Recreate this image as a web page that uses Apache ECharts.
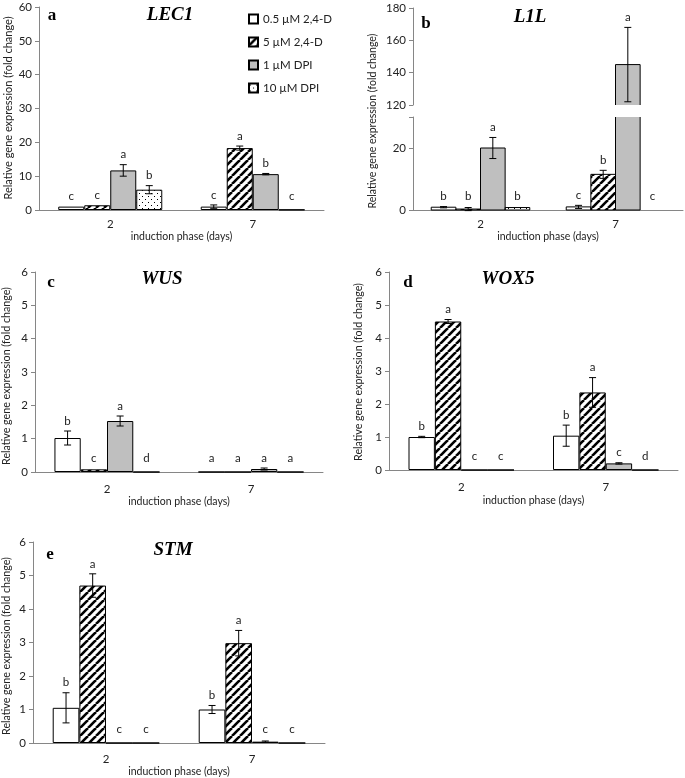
<!DOCTYPE html>
<html><head><meta charset="utf-8">
<script src="https://cdn.jsdelivr.net/npm/echarts@6/dist/echarts.min.js"></script>
<style>html,body{margin:0;padding:0;background:#fff}#c{width:685px;height:778px}</style>
</head><body><div id="c"></div>
<script>
const categories = ['2', '7'];
const treatments = ['0.5 µM 2,4-D', '5 µM 2,4-D', '1 µM DPI', '10 µM DPI'];

// values per treatment: [day 2, day 7]
const lec1Mean = [[1.0, 1.0], [1.4, 18.3], [11.7, 10.6], [6.0, 0.1]];
const lec1Err  = [[0, 0.5], [0, 0.6], [1.7, 0.2], [1.2, 0]];
const lec1Sig  = [['c', 'c'], ['c', 'a'], ['a', 'b'], ['b', 'c']];

const l1lMean = [[0.9, 1.0], [0.3, 11.5], [20.0, 145], [0.8, 0]];
const l1lErr  = [[0.2, 0.5], [0.5, 1.3], [3.4, 23], [0, 0]];
const l1lSig  = [['b', 'c'], ['b', 'b'], ['a', 'a'], ['b', 'c']];

const wusMean = [[1.02, 0], [0.08, 0], [1.53, 0.09], [0, 0]];
const wusErr  = [[0.21, 0], [0, 0], [0.15, 0.03], [0, 0]];
const wusSig  = [['b', 'a'], ['c', 'a'], ['a', 'a'], ['d', 'a']];

const wox5Mean = [[1.0, 1.04], [4.5, 2.35], [0, 0.2], [0, 0]];
const wox5Err  = [[0.02, 0.32], [0.06, 0.45], [0, 0.02], [0, 0]];
const wox5Sig  = [['b', 'b'], ['a', 'a'], ['c', 'c'], ['c', 'd']];

const stmMean = [[1.05, 1.0], [4.7, 2.98], [0, 0.04], [0, 0]];
const stmErr  = [[0.45, 0.12], [0.35, 0.38], [0, 0.02], [0, 0]];
const stmSig  = [['b', 'b'], ['a', 'a'], ['c', 'c'], ['c', 'c']];

const yTitle = 'Relative gene expression (fold change)';
const xTitle = 'induction phase (days)';

function makeHatch() {
  const c = document.createElement('canvas'); c.width = 8; c.height = 8;
  const g = c.getContext('2d');
  g.fillStyle = '#fff'; g.fillRect(0, 0, 8, 8);
  g.strokeStyle = '#000'; g.lineWidth = 2.6;
  for (const k of [-8, 0, 8]) { g.beginPath(); g.moveTo(k, 8); g.lineTo(k + 8, 0); g.stroke(); }
  return c;
}
function makeDots() {
  const c = document.createElement('canvas'); c.width = 6; c.height = 6;
  const g = c.getContext('2d');
  g.fillStyle = '#fff'; g.fillRect(0, 0, 6, 6);
  g.fillStyle = '#000'; g.fillRect(1, 1, 1, 1); g.fillRect(4, 4, 1, 1);
  return c;
}
const fills = ['#ffffff', { image: makeHatch(), repeat: 'repeat' }, '#bfbfbf', { image: makeDots(), repeat: 'repeat' }];
const GAP = 0.27;
const FONT = 'Lato, "Open Sans", sans-serif';
const axisGray = '#868686';

function bars(xi, yi, mean, border) {
  return treatments.map((n, t) => ({
    type: 'bar', name: n, xAxisIndex: xi, yAxisIndex: yi, data: mean[t],
    barGap: '0%', barCategoryGap: (GAP * 100) + '%', silent: true,
    itemStyle: { color: fills[t], borderColor: '#000', borderWidth: border ? 1 : 0 }
  }));
}
function barX(api, c, t) {
  const band = api.size([1, 0])[0];
  const bw = band * (1 - GAP) / 4;
  return { cx: api.coord([c, 0])[0] + (t - 1.5) * bw, bw };
}
// outlines for the broken-axis panel: open at the break
function outlines(xi, yi, mean) {
  const data = [];
  for (let t = 0; t < 4; t++) for (let c = 0; c < 2; c++) data.push([c, t, mean[t][c]]);
  return {
    type: 'custom', xAxisIndex: xi, yAxisIndex: yi, data, clip: false, silent: true, z: 9,
    encode: { x: 0, y: 2 },
    renderItem(p, api) {
      const c = api.value(0), t = api.value(1), v = api.value(2);
      const { cx, bw } = barX(api, c, t);
      const cs = p.coordSys;
      const yT = api.coord([c, v])[1], yB = api.coord([c, 0])[1];
      const top = cs.y, bot = cs.y + cs.height;
      const a = Math.max(top, Math.min(bot, yT)), b = Math.max(top, Math.min(bot, yB));
      if (a >= b) return { type: 'group', children: [] };
      const x0 = cx - bw / 2, x1 = cx + bw / 2;
      const ls = { stroke: '#000', lineWidth: 1, fill: null };
      const ch = [
        { type: 'line', shape: { x1: x0, y1: a, x2: x0, y2: b }, style: ls },
        { type: 'line', shape: { x1: x1, y1: a, x2: x1, y2: b }, style: ls }
      ];
      if (yT >= top) ch.push({ type: 'line', shape: { x1: x0, y1: a, x2: x1, y2: a }, style: ls });
      if (yB <= bot) ch.push({ type: 'line', shape: { x1: x0, y1: b, x2: x1, y2: b }, style: ls });
      return { type: 'group', children: ch };
    }
  };
}
function errs(xi, yi, mean, err, sig, lo, hi) {
  const data = [], letters = [];
  for (let t = 0; t < 4; t++) for (let c = 0; c < 2; c++) {
    const v = mean[t][c];
    if (v < lo || v > hi) continue;
    data.push([c, t, v, err[t][c]]); letters.push(sig[t][c]);
  }
  return {
    type: 'custom', xAxisIndex: xi, yAxisIndex: yi, data, clip: false, silent: true, z: 10,
    encode: { x: 0, y: 2 },
    renderItem(p, api) {
      const c = api.value(0), t = api.value(1), v = api.value(2), e = api.value(3);
      const { cx } = barX(api, c, t);
      const p0 = api.coord([c, 0]);
      const yTop = api.coord([c, v + e])[1];
      const yBot = api.coord([c, v - e])[1];
      const ch = [];
      if (e > 0) {
        const ls = { stroke: '#000', lineWidth: 1 };
        ch.push({ type: 'line', shape: { x1: cx, y1: yTop, x2: cx, y2: yBot }, style: ls });
        ch.push({ type: 'line', shape: { x1: cx - 3.5, y1: yTop, x2: cx + 3.5, y2: yTop }, style: ls });
        ch.push({ type: 'line', shape: { x1: cx - 3.5, y1: yBot, x2: cx + 3.5, y2: yBot }, style: ls });
      }
      const ly = Math.min(yTop - 10, p0[1] - 14);
      ch.push({ type: 'text', x: cx, y: ly, style: { text: letters[p.dataIndex], align: 'center', verticalAlign: 'middle', fill: '#222', fontSize: 11.5, fontFamily: FONT } });
      return { type: 'group', children: ch };
    }
  };
}
function xAx(gi, show, labelMargin, nameGap) {
  return {
    type: 'category', gridIndex: gi, data: categories, show,
    axisLine: { lineStyle: { color: axisGray } },
    axisTick: { length: 4, lineStyle: { color: axisGray } },
    axisLabel: { color: '#222', fontSize: 11.5, fontFamily: FONT, margin: labelMargin },
    name: xTitle, nameLocation: 'middle', nameGap,
    nameTextStyle: { color: '#222', fontSize: 10.5, fontFamily: FONT }
  };
}
function yAx(gi, min, max, interval, fmt) {
  return {
    type: 'value', gridIndex: gi, min, max, interval,
    splitLine: { show: false },
    axisLine: { show: true, lineStyle: { color: axisGray } },
    axisTick: { show: true, length: 4, lineStyle: { color: axisGray } },
    axisLabel: { color: '#222', fontSize: 11.5, fontFamily: FONT, margin: 7, formatter: fmt }
  };
}
function txt(x, y, text, size, opts) {
  return { type: 'text', x, y, silent: true,
    style: Object.assign({ text, align: 'center', verticalAlign: 'middle', fill: '#111', fontSize: size, fontFamily: FONT }, opts || {}) };
}
function title(x, y, text) {
  return txt(x, y, text, 19, { fontFamily: '"Liberation Serif", "Times New Roman", serif', fontStyle: 'italic', fontWeight: 'bold', fill: '#000' });
}
function letter(x, y, text) {
  return txt(x, y, text, 17, { fontFamily: '"Liberation Serif", "Times New Roman", serif', fontWeight: 'bold', fill: '#000' });
}
function ylab(x, y, size) {
  const t = txt(x, y, yTitle, size, { fill: '#222' });
  t.rotation = Math.PI / 2;
  return t;
}

const chart = echarts.init(document.getElementById('c'), null, { renderer: 'canvas' });
chart.setOption({
  animation: false,
  backgroundColor: '#fff',
  legend: {
    data: treatments, orient: 'vertical', left: 243, top: 8, itemWidth: 9, itemHeight: 9, itemGap: 11,
    selectedMode: false, textStyle: { fontSize: 11.5, fontFamily: FONT, color: '#222' }, icon: 'rect'
  },
  grid: [
    { left: 39, top: 7, width: 285, height: 203 },
    { left: 413, top: 8, width: 270, height: 97 },
    { left: 413, top: 117, width: 270, height: 93 },
    { left: 35, top: 272, width: 288, height: 200 },
    { left: 389, top: 272, width: 289, height: 198 },
    { left: 33, top: 542, width: 292, height: 201 }
  ],
  xAxis: [
    xAx(0, true, 8, 18),
    xAx(1, false, 8, 18),
    xAx(2, true, 8, 20),
    xAx(3, true, 11, 23),
    xAx(4, true, 11, 25),
    xAx(5, true, 10, 19)
  ],
  yAxis: [
    yAx(0, 0, 60, 10),
    yAx(1, 120, 180, 20),
    yAx(2, 0, 30, 20, v => (v === 30 ? '' : v)),
    yAx(3, 0, 6, 1),
    yAx(4, 0, 6, 1),
    yAx(5, 0, 6, 1)
  ],
  series: [
    ...bars(0, 0, lec1Mean, true), errs(0, 0, lec1Mean, lec1Err, lec1Sig, 0, 60),
    ...bars(1, 1, l1lMean, false), outlines(1, 1, l1lMean), errs(1, 1, l1lMean, l1lErr, l1lSig, 120, 1e9),
    ...bars(2, 2, l1lMean, false), outlines(2, 2, l1lMean), errs(2, 2, l1lMean, l1lErr, l1lSig, 0, 30),
    ...bars(3, 3, wusMean, true), errs(3, 3, wusMean, wusErr, wusSig, 0, 6),
    ...bars(4, 4, wox5Mean, true), errs(4, 4, wox5Mean, wox5Err, wox5Sig, 0, 6),
    ...bars(5, 5, stmMean, true), errs(5, 5, stmMean, stmErr, stmSig, 0, 6)
  ],
  graphic: [
    letter(52, 16, 'a'), title(170, 15, 'LEC1'),
    letter(426, 24, 'b'), title(530, 17, 'L1L'),
    letter(51, 283, 'c'), title(162, 279, 'WUS'),
    letter(408, 283, 'd'), title(508, 279, 'WOX5'),
    letter(50, 555, 'e'), title(173, 550, 'STM'),
    ylab(8, 108, 11), ylab(373, 121, 10.5), ylab(7, 376, 10.7), ylab(359, 372, 10.7), ylab(7, 646, 10.7)
  ]
});
</script></body></html>
